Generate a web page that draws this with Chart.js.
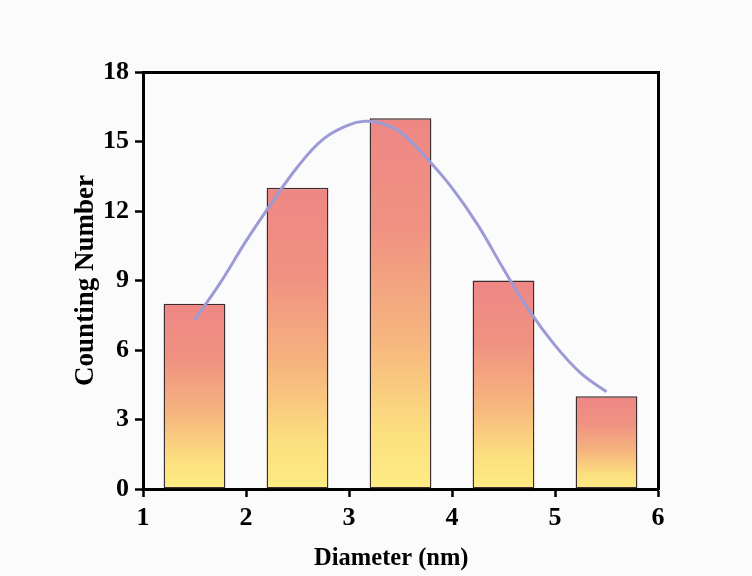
<!DOCTYPE html>
<html>
<head>
<meta charset="utf-8">
<script src="https://cdn.jsdelivr.net/npm/chart.js@4"></script>
<style>
html,body{margin:0;padding:0;background:#fbfbfb;}
canvas{display:block;}
</style>
</head>
<body>
<canvas id="c" width="752" height="576"></canvas>
<script>
// Data
const barCenters = [1.5, 2.5, 3.5, 4.5, 5.5];
const barCounts = [8, 13, 16, 9, 4];
const fitX = [1.5, 1.75, 2.0, 2.25, 2.5, 2.75, 3.0, 3.15, 3.3, 3.5, 3.75, 4.0, 4.25, 4.5, 4.75, 5.0, 5.25, 5.5];
const fitY = [7.3, 8.9, 10.7, 12.35, 13.9, 15.1, 15.72, 15.87, 15.8, 15.4, 14.3, 13.0, 11.4, 9.5, 7.7, 6.2, 5.0, 4.2];
const xTicks = [1, 2, 3, 4, 5, 6];
const yTicks = [0, 3, 6, 9, 12, 15, 18];

const FONT = "'Liberation Serif', 'Times New Roman', serif";

function barGradient(ctx) {
  const chart = ctx.chart;
  if (!chart.chartArea || ctx.type !== 'data') return '#F7B57E';
  const y = chart.scales.y;
  const top = y.getPixelForValue(ctx.raw.y);
  const bottom = y.getPixelForValue(0);
  const g = chart.ctx.createLinearGradient(0, top, 0, bottom);
  g.addColorStop(0, '#EE8785');
  g.addColorStop(0.3, '#F09282');
  g.addColorStop(0.6, '#F6B67E');
  g.addColorStop(0.85, '#FCE07F');
  g.addColorStop(1, '#FEEC84');
  return g;
}

new Chart(document.getElementById('c'), {
  data: {
    datasets: [
      {
        type: 'line',
        data: fitX.map((x, i) => ({x, y: fitY[i]})),
        borderColor: '#9D9BD6',
        borderWidth: 3,
        pointRadius: 0,
        tension: 0.4,
        fill: false,
        order: 0
      },
      {
        type: 'bar',
        data: barCenters.map((x, i) => ({x, y: barCounts[i]})),
        backgroundColor: barGradient,
        borderColor: '#3a2e2e',
        borderWidth: 1.4,
        borderSkipped: false,
        barPercentage: 0.6,
        categoryPercentage: 1.0,
        order: 1
      }
    ]
  },
  options: {
    responsive: false,
    animation: false,
    layout: {padding: {left: 0, top: 72, right: 94, bottom: 0}},
    plugins: {legend: {display: false}, tooltip: {enabled: false}},
    scales: {
      x: {
        type: 'linear', position: 'bottom', min: 1, max: 6, offset: false,
        afterBuildTicks: s => { s.ticks = xTicks.map(v => ({value: v})); },
        afterFit: s => { s.height = 87; },
        grid: {display: true, offset: false, drawOnChartArea: false, drawTicks: true, tickLength: 8, tickColor: '#000', tickWidth: 2.5},
        border: {display: true, color: '#000', width: 3},
        ticks: {color: '#000', padding: 6, font: {family: FONT, size: 26, weight: 'bold'}},
        title: {display: true, text: 'Diameter (nm)   ', color: '#000', padding: {top: 0, bottom: 5},
                font: {family: FONT, size: 24.5, weight: 'bold', lineHeight: 1}}
      },
      y: {
        type: 'linear', position: 'left', min: 0, max: 18,
        afterBuildTicks: s => { s.ticks = yTicks.map(v => ({value: v})); },
        afterFit: s => { s.width = 143; },
        grid: {display: true, drawOnChartArea: false, drawTicks: true, tickLength: 8, tickColor: '#000', tickWidth: 2.5},
        border: {display: true, color: '#000', width: 3},
        ticks: {color: '#000', padding: 6, font: {family: FONT, size: 26, weight: 'bold'}},
        title: {display: true, text: 'Counting Number', color: '#000', padding: {top: 73, bottom: 0},
                font: {family: FONT, size: 27, weight: 'bold', lineHeight: 1}}
      },
      x2: {
        type: 'linear', position: 'top', min: 1, max: 6,
        afterFit: s => { s.height = 0; },
        grid: {display: false, drawTicks: false},
        border: {display: true, color: '#000', width: 3},
        ticks: {display: false}
      },
      y2: {
        type: 'linear', position: 'right', min: 0, max: 18,
        afterFit: s => { s.width = 0; },
        grid: {display: false, drawTicks: false},
        border: {display: true, color: '#000', width: 3},
        ticks: {display: false}
      }
    }
  }
});
</script>
</body>
</html>
